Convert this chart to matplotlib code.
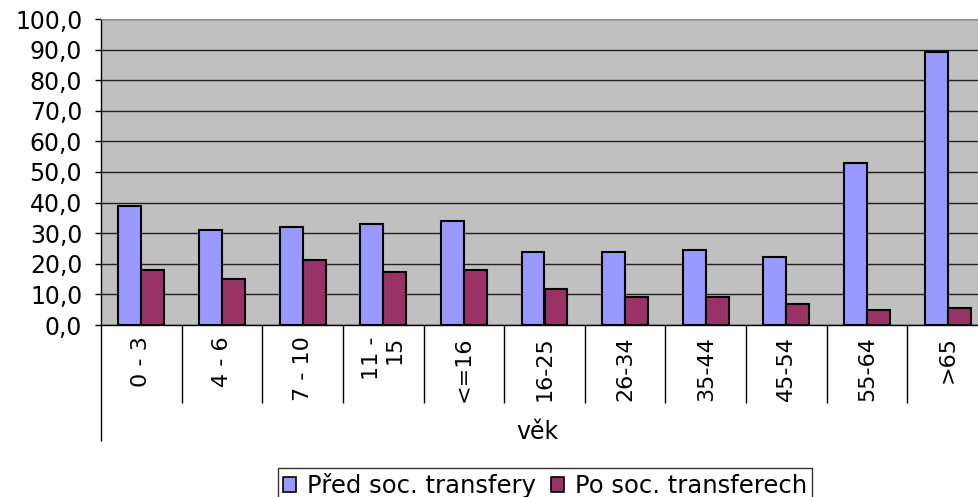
import numpy as np
import matplotlib
matplotlib.use("Agg")
import matplotlib.pyplot as plt
from matplotlib.ticker import FuncFormatter

# data
kategorie = ["0 - 3", "4 - 6", "7 - 10", "11 -\n15", "<=16", "16-25",
             "26-34", "35-44", "45-54", "55-64", ">65"]
pred_transfery = [38.9, 31.0, 32.1, 32.9, 34.1, 24.0, 24.0, 24.6, 22.1, 52.9, 89.2]
po_transferech = [18.1, 15.1, 21.2, 17.4, 18.1, 11.7, 9.3, 9.3, 6.8, 4.9, 5.5]

modra = "#9999FF"
vinova = "#993366"

plt.rcParams['font.family'] = ['DejaVu Sans']

fig = plt.figure(figsize=(9.79, 4.97), dpi=100)
ax = fig.add_axes([101/979, 1-325/497, (988-101)/979, (325-19)/497])
ax.set_facecolor("#C0C0C0")

x = np.arange(len(kategorie))
w = 0.285
ax.bar(x - w/2, pred_transfery, w, color=modra, edgecolor="black", linewidth=1.5,
       label="Před soc. transfery", zorder=3)
ax.bar(x + w/2, po_transferech, w, color=vinova, edgecolor="black", linewidth=1.5,
       label="Po soc. transferech", zorder=3)

ax.set_xlim(-0.5, len(kategorie) - 0.5)
ax.set_ylim(0, 100)
ax.set_yticks(np.arange(0, 101, 10))
ax.yaxis.set_major_formatter(FuncFormatter(lambda v, p: f"{v:.1f}".replace(".", ",")))
ax.tick_params(axis="y", labelsize=17, length=4.5, width=1, direction="out", pad=9)
ax.yaxis.grid(True, color="#202020", linewidth=1, zorder=1)
ax.set_axisbelow(True)

ax.set_xticks(x)
ax.set_xticklabels(kategorie, rotation=90, fontsize=16, multialignment="right")
ax.tick_params(axis="x", length=0, pad=8)

ax.spines["right"].set_visible(False)
ax.spines["top"].set_color("#909090")
ax.spines["left"].set_linewidth(1)
ax.spines["bottom"].set_linewidth(1)

# category separators below the axis
trans = ax.get_xaxis_transform()
ax.vlines(x[1:] - 0.5, -0.255, 0, transform=trans, color="black", linewidth=1, clip_on=False)
ax.vlines([-0.5], -0.379, 0, transform=trans, color="black", linewidth=1, clip_on=False)

fig.text(537/979, 1-432/497, "věk", ha="center", va="center", fontsize=17)

leg = fig.legend(loc="lower center", bbox_to_anchor=(545/979, -0.012), ncol=2,
                 fontsize=17.5, frameon=True, fancybox=False, edgecolor="black",
                 handlelength=0.55, handleheight=0.55, handletextpad=0.45,
                 columnspacing=0.6, borderpad=0.2, borderaxespad=0)
leg.get_frame().set_linewidth(1)
for h in leg.legend_handles:
    h.set_linewidth(1.2)

fig.savefig("out.png", dpi=100)
